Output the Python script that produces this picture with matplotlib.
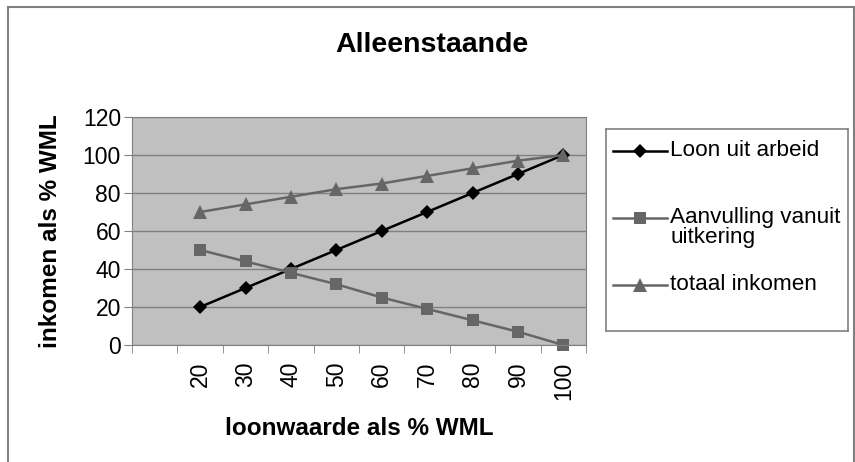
import matplotlib.pyplot as plt
from matplotlib.lines import Line2D
from matplotlib.patches import Rectangle

# data
categories = ['', '20', '30', '40', '50', '60', '70', '80', '90', '100']
loon = [None, 20, 30, 40, 50, 60, 70, 80, 90, 100]
aanvulling = [None, 50, 44, 38, 32, 25, 19, 13, 7, 0]
totaal = [None, 70, 74, 78, 82, 85, 89, 93, 97, 100]
series_names = ['Loon uit arbeid', 'Aanvulling vanuit\nuitkering', 'totaal inkomen']

plt.rcParams['font.family'] = ['Liberation Sans', 'DejaVu Sans']

W, H = 855, 462
fig = plt.figure(figsize=(W / 100, H / 100), dpi=100)

# outer chart frame
fig.add_artist(Rectangle((8 / W, -0.05), (854 - 8) / W, 1.05 - 7 / H,
                         transform=fig.transFigure, fill=False,
                         edgecolor='#808080', linewidth=1.5))

ax = fig.add_axes([132 / W, 1 - 345 / H, (586 - 132) / W, (345 - 117) / H])
ax.set_facecolor('#c0c0c0')

xs = list(range(len(categories)))
def clean(vals):
    return [float('nan') if v is None else v for v in vals]

styles = [
    dict(color='black', marker='D', markersize=7.5),
    dict(color='#666666', marker='s', markersize=8.5),
    dict(color='#666666', marker='^', markersize=9.5),
]
for vals, st in zip([loon, aanvulling, totaal], styles):
    ax.plot(xs, clean(vals), linewidth=1.8, markeredgewidth=0, clip_on=False, **st)

ax.set_xlim(-0.5, len(categories) - 0.5)
ax.set_ylim(0, 120)
ax.set_yticks(range(0, 121, 20))
ax.yaxis.grid(True, color='#808080', linewidth=1)
ax.set_axisbelow(True)

ax.set_xticks(xs)
ax.set_xticklabels(categories, rotation=90, fontsize=16.5)
ax.set_xticks([x - 0.5 for x in xs] + [len(categories) - 0.5], minor=True)
ax.tick_params(axis='x', which='major', length=0, pad=12)
ax.tick_params(axis='x', which='minor', length=6, color='#808080')
ax.tick_params(axis='y', length=6, color='#808080', labelsize=16.5, pad=2)
for s in ax.spines.values():
    s.set_color('#808080')

ax.set_xlabel('loonwaarde als % WML', fontsize=17.5, fontweight='bold', labelpad=12)
ax.set_ylabel('inkomen als % WML', fontsize=17.5, fontweight='bold', labelpad=15)
fig.text(432 / W, 1 - 45 / H, 'Alleenstaande', fontsize=20.5, fontweight='bold',
         ha='center', va='center')

# legend box drawn by hand, Excel style
lg = fig.add_axes([606 / W, 1 - 331 / H, (848 - 606) / W, (331 - 129) / H])
lg.set_xlim(606, 848)
lg.set_ylim(331, 129)
lg.set_xticks([])
lg.set_yticks([])
lg.set_facecolor('white')
for s in lg.spines.values():
    s.set_color('#808080')
    s.set_linewidth(1.2)
rows = [151, 218, 285]
for name, st, y in zip(series_names, styles, rows):
    lg.add_line(Line2D([613, 640, 667], [y, y, y], linewidth=1.8, markevery=[1],
                       markeredgewidth=0, **st))
    lg.text(670, y - 11, name, fontsize=16.2, va='top', ha='left', linespacing=0.92)

fig.savefig('out.png', dpi=100)
